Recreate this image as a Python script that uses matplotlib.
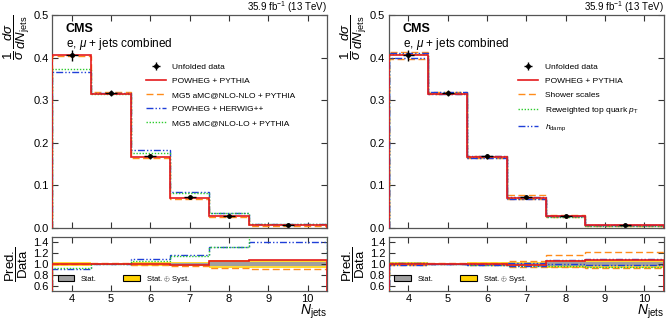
import numpy as np
import matplotlib
matplotlib.use("Agg")
import matplotlib.pyplot as plt
from matplotlib.patches import Patch
from matplotlib.lines import Line2D

plt.rcParams['font.family'] = ['Liberation Sans', 'DejaVu Sans']
plt.rcParams['mathtext.fontset'] = 'custom'
plt.rcParams['mathtext.rm'] = 'Liberation Sans'
plt.rcParams['mathtext.it'] = 'Liberation Sans:italic'

# bins: 4, 5, 6, 7, 8, >=9
edges = [3.5, 4.5, 5.5, 6.5, 7.5, 8.5, 10.5]
data_x = [4, 5, 6, 7, 8, 9.5]
data = [0.405, 0.317, 0.168, 0.072, 0.027, 0.0062]
stat_rel = [0.004, 0.004, 0.006, 0.010, 0.030, 0.040]
tot_rel = [0.030, 0.020, 0.030, 0.045, 0.080, 0.080]

# left panel generators
powheg_pythia = [0.405, 0.315, 0.167, 0.071, 0.0284, 0.0066]
mg5_nlo = [0.403, 0.320, 0.165, 0.069, 0.0251, 0.0056]
powheg_herwig = [0.365, 0.317, 0.183, 0.084, 0.0356, 0.0087]
mg5_lo = [0.373, 0.314, 0.176, 0.083, 0.0356, 0.0096]

# right panel variations
shower_up = [0.413, 0.320, 0.170, 0.0763, 0.0313, 0.0076]
shower_dn = [0.397, 0.314, 0.1646, 0.0684, 0.0254, 0.0057]
toppt_rw = [0.409, 0.317, 0.1663, 0.0698, 0.0259, 0.0058]
hdamp_up = [0.410, 0.318, 0.169, 0.0727, 0.0289, 0.0068]
hdamp_dn = [0.400, 0.315, 0.165, 0.0691, 0.0270, 0.0061]

RED = '#e41a1c'
ORANGE = '#ff8c1a'
BLUE = '#1f3fd8'
GREEN = '#2ecc2e'
DASHDOT = (0, (5, 1.5, 1, 1.5, 1, 1.5))
DASH = (0, (5, 2.5))
DOT = (0, (1, 1.2))

data = np.array(data)
edges = np.array(edges)


def style_axes(ax):
    ax.tick_params(direction='in', top=True, right=True, labelsize=8,
                   length=4, width=0.8, color='#333333', pad=2.5)
    for s in ax.spines.values():
        s.set_color('#555555')
        s.set_linewidth(0.9)
    ax.set_xlim(3.5, 10.5)
    ax.set_xticks(range(4, 11))


def draw_panel(left, series, leg_x):
    ax = fig.add_axes([left, 0.2875, 0.412, 0.666])
    rx = fig.add_axes([left, 0.0906, 0.412, 0.169])
    style_axes(ax)
    style_axes(rx)
    ax.set_xticklabels([])
    ax.set_ylim(0, 0.5)
    ax.set_yticks([0.0, 0.1, 0.2, 0.3, 0.4, 0.5])
    rx.set_ylim(0.5, 1.5)
    rx.set_yticks([0.6, 0.8, 1.0, 1.2, 1.4])

    # ratio bands
    rx.stairs(1 + np.array(tot_rel), edges, baseline=1 - np.array(tot_rel),
              fill=True, color='#ffd200', alpha=0.8, lw=0)
    rx.stairs(1 + np.array(stat_rel), edges, baseline=1 - np.array(stat_rel),
              fill=True, color='#a0a0a0', lw=0)

    eb = ax.errorbar(data_x, data, yerr=data * np.array(tot_rel), xerr=0.15,
                     fmt='o', color='k', ms=2.5, elinewidth=1, capsize=0, zorder=5)
    handles = [eb]
    labels = ['Unfolded data']
    for vals, color, ls, lw, label in series:
        z = 4 if color == RED else 3
        ax.stairs(vals, edges, color=color, ls=ls, lw=lw, zorder=z)
        rx.stairs(np.array(vals) / data, edges, color=color, ls=ls, lw=lw, zorder=z)
        if label:
            handles.append(Line2D([], [], color=color, ls=ls, lw=lw))
            labels.append(label)

    ax.legend(handles, labels, loc='upper left', bbox_to_anchor=(leg_x, 0.775),
              frameon=False, fontsize=6, handlelength=2.4, handletextpad=0.8,
              labelspacing=0.75, borderpad=0, borderaxespad=0)

    bh = [Patch(facecolor='#a0a0a0', edgecolor='k', lw=0.8),
          Patch(facecolor='#ffd200', edgecolor='k', lw=0.8)]
    rx.legend(bh, ['Stat.', r'Stat. $\oplus$ Syst.'], loc='lower left',
              bbox_to_anchor=(0.02, 0.12), ncol=2, frameon=False, fontsize=5.5,
              handlelength=2.2, handleheight=0.9, columnspacing=3.5,
              borderpad=0, borderaxespad=0)

    ax.text(0.05, 0.935, 'CMS', transform=ax.transAxes, fontsize=9,
            fontweight='bold', va='center')
    ax.text(0.05, 0.865, r'e, $\mu$ + jets combined', transform=ax.transAxes,
            fontsize=8.5, va='center')
    ax.text(1.0, 1.0, r'35.9 fb$^{-1}$ (13 TeV)', transform=ax.transAxes,
            fontsize=7, ha='right', va='bottom')
    ax.set_ylabel(r'$\dfrac{1}{\sigma}\,\dfrac{d\sigma}{dN_{\mathrm{jets}}}$',
                  loc='top', fontsize=9.5)
    ax.yaxis.set_label_coords(-0.072, 1.0)
    rx.set_ylabel(r'$\dfrac{\mathrm{Pred.}}{\mathrm{Data}}$', fontsize=9.5)
    rx.yaxis.set_label_coords(-0.08, 0.5)
    rx.set_xlabel(r'$N_{\mathrm{jets}}$', loc='right', fontsize=10, labelpad=-1)
    return ax, rx


fig = plt.figure(figsize=(6.68, 3.2), dpi=100)

left_series = [
    (powheg_pythia, RED, '-', 1.2, 'POWHEG + PYTHIA'),
    (mg5_nlo, ORANGE, DASH, 1.0, 'MG5 aMC@NLO-NLO + PYTHIA'),
    (powheg_herwig, BLUE, DASHDOT, 1.0, 'POWHEG + HERWIG++'),
    (mg5_lo, GREEN, DOT, 1.0, 'MG5 aMC@NLO-LO + PYTHIA'),
]
draw_panel(0.078, left_series, 0.34)

right_series = [
    (powheg_pythia, RED, '-', 1.2, 'POWHEG + PYTHIA'),
    (shower_up, ORANGE, DASH, 1.0, 'Shower scales'),
    (shower_dn, ORANGE, DASH, 1.0, None),
    (toppt_rw, GREEN, DOT, 1.0, r'Reweighted top quark $p_{\mathrm{T}}$'),
    (hdamp_up, BLUE, DASHDOT, 1.0, r'$h_{\mathrm{damp}}$'),
    (hdamp_dn, BLUE, DASHDOT, 1.0, None),
]
draw_panel(0.582, right_series, 0.47)

fig.savefig('out.png', dpi=100)
